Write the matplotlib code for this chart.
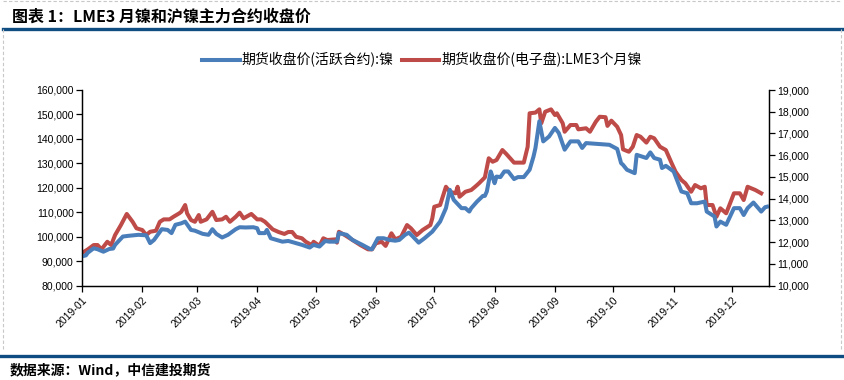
"""LME3 nickel vs SHFE nickel closing prices, 2019"""

import pandas as pd
import matplotlib
matplotlib.use("Agg")
import matplotlib.pyplot as plt
import matplotlib.dates as mdates
from matplotlib.lines import Line2D
from matplotlib.ticker import FuncFormatter, MultipleLocator

plt.rcParams['font.family'] = ['Noto Sans CJK SC', 'DejaVu Sans']

# SHFE nickel (active contract), yuan/t
shfe_dates = ["2019-01-02", "2019-01-03", "2019-01-04", "2019-01-07", "2019-01-09", "2019-01-12",
              "2019-01-15", "2019-01-17", "2019-01-18", "2019-01-22", "2019-01-25", "2019-01-30",
              "2019-02-03", "2019-02-05", "2019-02-07", "2019-02-11", "2019-02-14", "2019-02-16",
              "2019-02-18", "2019-02-21", "2019-02-23", "2019-02-26", "2019-02-28", "2019-03-04",
              "2019-03-07", "2019-03-09", "2019-03-11", "2019-03-14", "2019-03-17", "2019-03-21",
              "2019-03-23", "2019-03-26", "2019-03-30", "2019-04-01", "2019-04-02", "2019-04-05",
              "2019-04-06", "2019-04-08", "2019-04-11", "2019-04-14", "2019-04-17", "2019-04-21",
              "2019-04-24", "2019-04-28", "2019-04-30", "2019-05-03", "2019-05-06", "2019-05-08",
              "2019-05-12", "2019-05-13", "2019-05-17", "2019-05-20", "2019-05-25", "2019-05-29",
              "2019-05-30", "2019-06-02", "2019-06-05", "2019-06-08", "2019-06-11", "2019-06-13",
              "2019-06-16", "2019-06-18", "2019-06-20", "2019-06-23", "2019-06-26", "2019-06-30",
              "2019-07-04", "2019-07-07", "2019-07-09", "2019-07-11", "2019-07-15", "2019-07-17",
              "2019-07-19", "2019-07-20", "2019-07-23", "2019-07-26", "2019-07-27", "2019-07-28",
              "2019-07-30", "2019-07-31", "2019-08-01", "2019-08-02", "2019-08-04", "2019-08-06",
              "2019-08-08", "2019-08-11", "2019-08-13", "2019-08-16", "2019-08-19", "2019-08-21",
              "2019-08-22", "2019-08-24", "2019-08-26", "2019-08-29", "2019-09-01", "2019-09-03",
              "2019-09-06", "2019-09-09", "2019-09-13", "2019-09-15", "2019-09-17", "2019-09-24",
              "2019-09-29", "2019-10-03", "2019-10-05", "2019-10-06", "2019-10-08", "2019-10-12",
              "2019-10-13", "2019-10-18", "2019-10-20", "2019-10-22", "2019-10-25", "2019-10-26",
              "2019-10-28", "2019-11-01", "2019-11-03", "2019-11-05", "2019-11-08", "2019-11-10",
              "2019-11-13", "2019-11-17", "2019-11-18", "2019-11-22", "2019-11-23", "2019-11-25",
              "2019-11-28", "2019-12-02", "2019-12-05", "2019-12-07", "2019-12-09", "2019-12-12",
              "2019-12-16", "2019-12-18", "2019-12-19"]
shfe_close = [92200, 92400, 93500, 95300, 94900, 93900, 95000, 95200, 96700, 100100, 100400, 100800,
              100600, 97400, 98700, 103100, 102800, 101500, 104900, 105500, 106200, 102800, 102500, 101200,
              100800, 103100, 101200, 99700, 100800, 103100, 103900, 103800, 103900, 103500, 101500, 101500,
              102800, 99400, 98700, 98000, 98300, 97400, 96700, 95600, 96700, 96000, 98300, 98000,
              98000, 101500, 100800, 98700, 96700, 95000, 94900, 99400, 99400, 98700, 98400, 98700,
              100800, 101700, 100100, 97600, 99400, 102100, 106200, 111700, 119200, 115100, 111700, 111700,
              110300, 111700, 114400, 116700, 116700, 118500, 126700, 124400, 121900, 124600, 124400, 126700,
              126700, 123600, 124400, 124400, 127400, 132800, 136300, 147200, 139000, 141000, 144500, 142400,
              135600, 139000, 139000, 136300, 138300, 137900, 137600, 135900, 130100, 129400, 127400, 126000,
              133500, 132200, 134500, 132200, 131500, 128100, 129000, 126700, 122600, 118500, 117800, 113700,
              113700, 114400, 110300, 108300, 104200, 106200, 104900, 111700, 111700, 108900, 111700, 114000,
              110300, 112100, 112300]

# LME 3-month nickel (electronic), USD/t
lme_dates = ["2019-01-02", "2019-01-04", "2019-01-07", "2019-01-09", "2019-01-11", "2019-01-14",
             "2019-01-16", "2019-01-18", "2019-01-21", "2019-01-24", "2019-01-27", "2019-01-29",
             "2019-02-01", "2019-02-03", "2019-02-05", "2019-02-08", "2019-02-10", "2019-02-12",
             "2019-02-15", "2019-02-17", "2019-02-20", "2019-02-21", "2019-02-23", "2019-02-24",
             "2019-02-26", "2019-02-28", "2019-03-02", "2019-03-03", "2019-03-06", "2019-03-09",
             "2019-03-11", "2019-03-14", "2019-03-16", "2019-03-18", "2019-03-21", "2019-03-23",
             "2019-03-25", "2019-03-29", "2019-04-01", "2019-04-03", "2019-04-05", "2019-04-09",
             "2019-04-12", "2019-04-15", "2019-04-17", "2019-04-19", "2019-04-21", "2019-04-24",
             "2019-04-26", "2019-04-29", "2019-04-30", "2019-05-03", "2019-05-05", "2019-05-07",
             "2019-05-11", "2019-05-12", "2019-05-13", "2019-05-16", "2019-05-20", "2019-05-24",
             "2019-05-28", "2019-05-30", "2019-06-01", "2019-06-04", "2019-06-06", "2019-06-09",
             "2019-06-11", "2019-06-14", "2019-06-17", "2019-06-19", "2019-06-22", "2019-06-25",
             "2019-06-29", "2019-06-30", "2019-07-01", "2019-07-04", "2019-07-07", "2019-07-09",
             "2019-07-12", "2019-07-13", "2019-07-14", "2019-07-17", "2019-07-20", "2019-07-22",
             "2019-07-24", "2019-07-27", "2019-07-29", "2019-07-31", "2019-08-02", "2019-08-05",
             "2019-08-07", "2019-08-11", "2019-08-16", "2019-08-18", "2019-08-19", "2019-08-22",
             "2019-08-24", "2019-08-25", "2019-08-27", "2019-08-30", "2019-09-01", "2019-09-02",
             "2019-09-05", "2019-09-06", "2019-09-09", "2019-09-12", "2019-09-13", "2019-09-17",
             "2019-09-19", "2019-09-22", "2019-09-24", "2019-09-27", "2019-09-28", "2019-09-30",
             "2019-10-03", "2019-10-05", "2019-10-06", "2019-10-09", "2019-10-11", "2019-10-13",
             "2019-10-15", "2019-10-18", "2019-10-20", "2019-10-22", "2019-10-25", "2019-10-28",
             "2019-10-31", "2019-11-02", "2019-11-05", "2019-11-07", "2019-11-10", "2019-11-12",
             "2019-11-15", "2019-11-17", "2019-11-18", "2019-11-21", "2019-11-23", "2019-11-25",
             "2019-11-28", "2019-12-02", "2019-12-05", "2019-12-07", "2019-12-09", "2019-12-13",
             "2019-12-16"]
lme_close = [11560, 11670, 11870, 11870, 11670, 12020, 11870, 12330, 12790, 13300, 12940, 12640,
             12560, 12330, 12480, 12530, 12940, 13050, 13050, 13170, 13330, 13400, 13710, 13330,
             13020, 12940, 13250, 12940, 13050, 13400, 13020, 13050, 13170, 12940, 13170, 13360,
             13100, 13300, 13050, 13050, 12940, 12590, 12470, 12380, 12470, 12470, 12250, 12180,
             12020, 11870, 12020, 11830, 12180, 12100, 12130, 11980, 12480, 12330, 12100, 11870,
             11670, 11670, 11950, 12020, 11830, 12410, 12130, 12250, 12790, 12640, 12330, 12560,
             12790, 13100, 13630, 13710, 14550, 14320, 14250, 14550, 14090, 14320, 14400, 14550,
             14710, 14980, 15860, 15700, 15780, 16240, 16060, 15660, 15660, 16390, 17930, 17960,
             18110, 17470, 18000, 18110, 17850, 17930, 17470, 17080, 17390, 17390, 17190, 17240,
             17080, 17540, 17770, 17750, 17350, 17590, 17310, 16930, 16270, 16160, 16390, 16930,
             16850, 16580, 16850, 16780, 16390, 16240, 15630, 15240, 14860, 14710, 14320, 14630,
             14480, 14550, 13710, 13710, 13170, 13560, 13330, 14250, 14250, 13940, 14550, 14400,
             14250]

month_ticks = pd.date_range("2019-01-01", "2019-12-01", freq="MS")

blue = "#4A7EBB"
red = "#BE4B48"
dark = "#0F4C81"

fig = plt.figure(figsize=(8.44, 3.80), dpi=100)
ax = fig.add_axes([82 / 844, 1 - 285.7 / 380, (769 - 82) / 844, (285.7 - 90) / 380])
ax2 = ax.twinx()

l1, = ax.plot(pd.to_datetime(shfe_dates), shfe_close, color=blue, lw=2.9,
              solid_joinstyle="round", label="期货收盘价(活跃合约):镍")
l2, = ax2.plot(pd.to_datetime(lme_dates), lme_close, color=red, lw=2.9,
               solid_joinstyle="round", label="期货收盘价(电子盘):LME3个月镍")
ax.set_zorder(ax2.get_zorder() + 1)
ax.patch.set_visible(False)

ax.set_xlim(pd.Timestamp("2019-01-01"), pd.Timestamp("2019-12-20"))
ax.set_ylim(80000, 160000)
ax2.set_ylim(10000, 19000)
ax.yaxis.set_major_locator(MultipleLocator(10000))
ax2.yaxis.set_major_locator(MultipleLocator(1000))
comma = FuncFormatter(lambda v, p: f"{v:,.0f}")
ax.yaxis.set_major_formatter(comma)
ax2.yaxis.set_major_formatter(comma)

ax.set_xticks(month_ticks)
ax.xaxis.set_major_formatter(mdates.DateFormatter("%Y-%m"))
for lab in ax.get_xticklabels():
    lab.set_rotation(45)
    lab.set_ha("right")
    lab.set_rotation_mode("anchor")

for a in (ax, ax2):
    for s in a.spines.values():
        s.set_linewidth(0.9)
    a.spines["top"].set_visible(False)
    a.tick_params(direction="out", length=4, width=0.9, labelsize=7.5, pad=2)
    for lab in a.get_xticklabels() + a.get_yticklabels():
        lab.set_family(["Liberation Sans", "DejaVu Sans"])
ax.tick_params(axis="x", pad=3)

fig.legend(handles=[l1, l2], loc="center", bbox_to_anchor=(0.5, 1 - 60 / 380), ncol=2,
           frameon=False, fontsize=10, handlelength=2.7, handletextpad=0.15,
           columnspacing=0.6, borderaxespad=0)

# header and footer
fig.text(12 / 844, 1 - 16 / 380, "图表 1：LME3 月镍和沪镍主力合约收盘价", fontsize=11.5,
         fontweight="bold", va="center", ha="left")
fig.add_artist(Line2D([3 / 844, 1], [1 - 28.5 / 380] * 2, color=dark, lw=2.4))
fig.add_artist(Line2D([0, 1], [1 - 355.7 / 380] * 2, color=dark, lw=2.4))
fig.text(10 / 844, 1 - 370 / 380, "数据来源：Wind，中信建投期货", fontsize=10,
         fontweight="bold", style="italic", va="center", ha="left")

# dashed frame
frame = dict(color="#C8C8C8", lw=0.8, ls=(0, (3, 2)))
fig.add_artist(Line2D([3 / 844, 3 / 844], [1 - 28.5 / 380, 1 - 350 / 380], **frame))
fig.add_artist(Line2D([841 / 844, 841 / 844], [1 - 28.5 / 380, 1 - 350 / 380], **frame))
fig.add_artist(Line2D([3 / 844, 841 / 844], [1 - 1 / 380] * 2, **frame))

fig.savefig("out.png", dpi=100)
